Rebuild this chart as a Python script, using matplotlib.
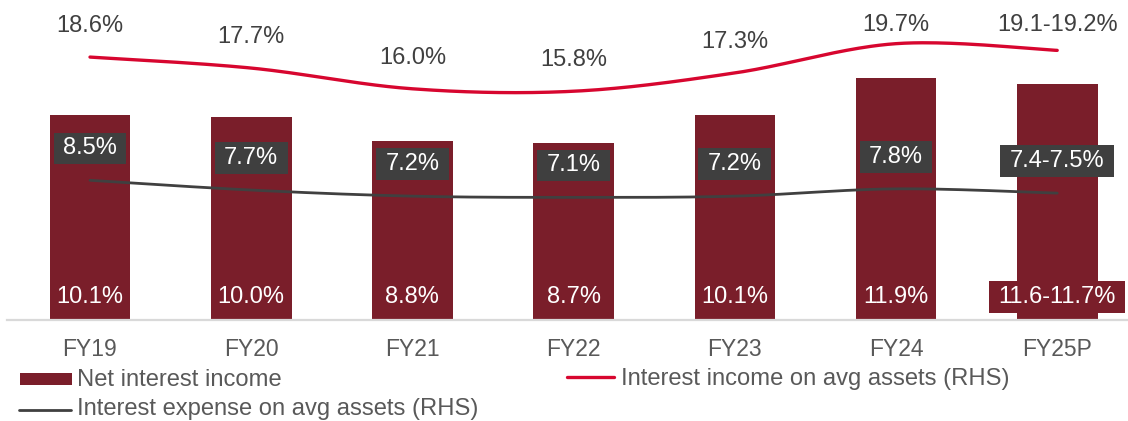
import numpy as np
import matplotlib
matplotlib.use("Agg")
import matplotlib.pyplot as plt
from matplotlib.patches import Rectangle
from matplotlib.lines import Line2D
from matplotlib.path import Path

plt.rcParams['font.family'] = ['Liberation Sans', 'DejaVu Sans']

# --- data ---------------------------------------------------------------
categories = ["FY19", "FY20", "FY21", "FY22", "FY23", "FY24", "FY25P"]
net_interest_income = [10.1, 10.0, 8.8, 8.7, 10.1, 11.9, 11.65]
nii_labels = ["10.1%", "10.0%", "8.8%", "8.7%", "10.1%", "11.9%", "11.6-11.7%"]
interest_income = [18.6, 17.7, 16.0, 15.8, 17.3, 19.7, 19.15]
income_labels = ["18.6%", "17.7%", "16.0%", "15.8%", "17.3%", "19.7%", "19.1-19.2%"]
interest_expense = [8.5, 7.7, 7.2, 7.1, 7.2, 7.8, 7.45]
expense_labels = ["8.5%", "7.7%", "7.2%", "7.1%", "7.2%", "7.8%", "7.4-7.5%"]
series_names = ["Net interest income",
                "Interest income on avg assets (RHS)",
                "Interest expense on avg assets (RHS)"]

BAR = "#7A1E2A"
RED = "#D7062F"
DARK = "#404040"
GREY_TXT = "#595959"
FS = 17
LEG_FS = 17.1

W, H = 1128, 421
fig = plt.figure(figsize=(W / 100, H / 100), dpi=100)


def fx(px):
    return px / W


def fy(py):
    return 1 - py / H


def label_box(x0, y0, width, height, mutation_size):
    """Rectangular label box, wider padding left/right than top/bottom."""
    px, py = 0.40 * mutation_size, 0.20 * mutation_size
    x0, y0 = x0 - px, y0 - py
    x1, y1 = x0 + width + 2 * px, y0 + height + 2 * py
    return Path([(x0, y0), (x1, y0), (x1, y1), (x0, y1), (x0, y0)],
                closed=True)


def smooth(xs, ys, n=40):
    """Catmull-Rom curve through the points (Excel-style smoothed line)."""
    p = np.column_stack([xs, ys]).astype(float)
    p = np.vstack([p[0], p, p[-1]])
    out = []
    t = np.linspace(0, 1, n)[:, None]
    for i in range(1, len(p) - 2):
        p0, p1, p2, p3 = p[i - 1], p[i], p[i + 1], p[i + 2]
        seg = 0.5 * ((2 * p1) + (-p0 + p2) * t
                     + (2 * p0 - 5 * p1 + 4 * p2 - p3) * t ** 2
                     + (-p0 + 3 * p1 - 3 * p2 + p3) * t ** 3)
        out.append(seg if i == 1 else seg[1:])
    out = np.vstack(out)
    return out[:, 0], out[:, 1]


# plot area: x 7..1128 px, y 0..320 px
ax = fig.add_axes([fx(7), fy(320), fx(1128 - 7), 320 / H])
x = np.arange(len(categories))
step = 161.2
ax.set_xlim(-(90 - 7) / step, (1128 - 90) / step)
ax.set_ylim(0, 320 / 20.3)

ax.bar(x, net_interest_income, width=0.5, color=BAR, zorder=2)
for xi, lab in zip(x, nii_labels):
    # range labels are wider than the bar, so they get a bar-coloured backing
    box = dict(boxstyle=label_box, fc=BAR, ec="none") if "-" in lab else None
    ax.annotate(lab, (xi, 0), xytext=(0, 16.5), textcoords="offset points",
                ha="center", va="center", color="white", fontsize=FS,
                bbox=box, zorder=3)

ax.set_xticks(x)
ax.set_xticklabels(categories, fontsize=16.5, color=GREY_TXT)
ax.tick_params(axis="x", length=0, pad=13)
ax.set_yticks([])
for s in ["top", "left", "right"]:
    ax.spines[s].set_visible(False)
ax.spines["bottom"].set_color("#D9D9D9")
ax.spines["bottom"].set_linewidth(1.6)

# right-hand scale for the two rate lines
ax2 = ax.twinx()
px_per_pct = 12.2
zero_px = 284
ax2.set_ylim(-(320 - zero_px) / px_per_pct, zero_px / px_per_pct)
ax2.set_yticks([])
for s in ["top", "left", "right", "bottom"]:
    ax2.spines[s].set_visible(False)

sx, sy = smooth(x, interest_income)
ax2.plot(sx, sy, color=RED, lw=2.4, solid_capstyle="round")
sx, sy = smooth(x, interest_expense)
ax2.plot(sx, sy, color=DARK, lw=2.0, solid_capstyle="round")

# labels above the red line, kept inside the top of the chart
top_limit = (zero_px - 25) / px_per_pct
for xi, v, lab in zip(x, interest_income, income_labels):
    ly = min(v + 31 / px_per_pct, top_limit)
    ax2.text(xi, ly, lab, ha="center", va="center", color=DARK, fontsize=FS)
for xi, v, lab in zip(x, interest_expense, expense_labels):
    ax2.annotate(lab, (xi, v), xytext=(0, 23), textcoords="offset points",
                 ha="center", va="center", color="white", fontsize=FS,
                 bbox=dict(boxstyle=label_box, fc="#3F3F3F", ec="none"))

# legend drawn in figure space
fig.add_artist(Rectangle((fx(20), fy(385)), fx(72) - fx(20), fy(373) - fy(385),
                         transform=fig.transFigure, fc=BAR, ec="none"))
fig.text(fx(77), fy(380), series_names[0], fontsize=LEG_FS, color=GREY_TXT,
         ha="left", va="center")
fig.add_artist(Line2D([fx(567), fx(614)], [fy(377), fy(377)],
                      transform=fig.transFigure, color=RED, lw=2.4,
                      solid_capstyle="round"))
fig.text(fx(621), fy(379), series_names[1], fontsize=LEG_FS, color=GREY_TXT,
         ha="left", va="center")
fig.add_artist(Line2D([fx(19), fx(71)], [fy(410), fy(410)],
                      transform=fig.transFigure, color=DARK, lw=2.0,
                      solid_capstyle="round"))
fig.text(fx(77), fy(409), series_names[2], fontsize=LEG_FS, color=GREY_TXT,
         ha="left", va="center")

fig.savefig("out.png", dpi=100)
